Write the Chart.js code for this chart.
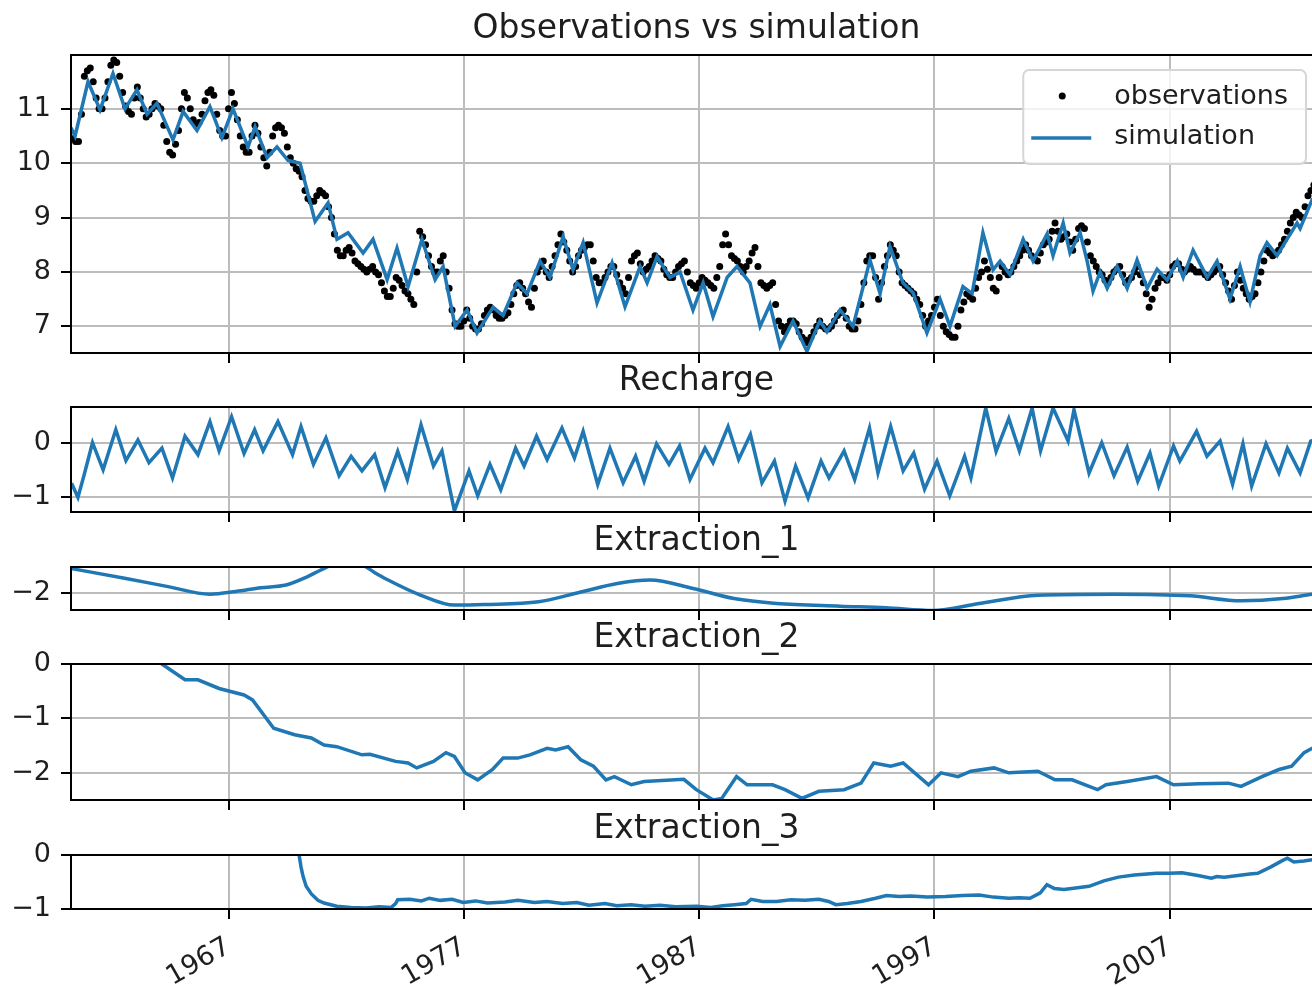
<!DOCTYPE html>
<html>
<head>
<meta charset="utf-8">
<title>Observations vs simulation</title>
<script src="https://cdn.jsdelivr.net/npm/chart.js@4.4.1/dist/chart.umd.min.js"></script>
<style>
    html, body { margin: 0; padding: 0; background: #fff; overflow: hidden; width: 1312px; height: 987px; }
    canvas { position: absolute; left: 0; }
</style>
</head>
<body>
<canvas id="panel-heads"></canvas>
<canvas id="panel-recharge"></canvas>
<canvas id="panel-ext1"></canvas>
<canvas id="panel-ext2"></canvas>
<canvas id="panel-ext3"></canvas>
<script>
// Shared time axis (decimal years)
const xMin = 1960.306;
const xMax = 2013.47;
const yearTicks = [1967, 1977, 1987, 1997, 2007];

// Heads: simulated line (turning points)
const simYears = [1960.31,1960.48,1961.03,1961.54,1962.09,1962.60,1963.11,1963.54,1963.96,1964.64,
    1965.07,1965.66,1966.21,1966.72,1967.19,1967.83,1968.13,1968.64,1969.06,1969.53,
    1970.04,1970.68,1971.23,1971.61,1972.08,1972.72,1973.14,1973.74,1974.16,1974.63,
    1975.22,1975.78,1976.12,1976.63,1977.14,1977.56,1978.24,1978.67,1979.26,1979.69,
    1980.24,1980.66,1981.22,1981.64,1982.07,1982.66,1983.30,1983.85,1984.49,1984.79,
    1985.21,1985.76,1986.19,1986.74,1987.17,1987.59,1988.19,1988.61,1989.16,1989.59,
    1990.01,1990.44,1990.99,1991.58,1992.13,1992.43,1992.99,1993.54,1994.26,1994.69,
    1995.11,1995.66,1996.09,1996.68,1997.24,1997.66,1998.21,1998.60,1999.06,1999.49,
    1999.79,2000.21,2000.77,2001.19,2001.79,2002.04,2002.47,2002.76,2003.19,2003.49,
    2003.74,2004.04,2004.34,2004.76,2005.19,2005.61,2006.04,2006.46,2006.89,2007.32,
    2007.57,2007.99,2008.59,2009.01,2009.56,2009.99,2010.41,2010.84,2011.13,2011.56,
    2011.98,2012.41,2012.54,2013.05,2013.47];
const simHeads = [10.65,10.50,11.50,10.98,11.65,11.00,11.35,10.90,11.10,10.43,
    10.95,10.60,11.04,10.47,11.00,10.30,10.67,10.10,10.30,10.05,
    10.00,8.93,9.27,8.60,8.72,8.35,8.60,7.86,8.44,7.73,
    8.60,7.86,8.10,7.00,7.30,6.88,7.35,7.20,7.80,7.60,
    8.20,7.90,8.65,8.04,8.54,7.43,8.17,7.36,8.10,7.80,
    8.28,7.90,8.00,7.30,7.80,7.18,7.90,8.10,7.80,7.00,
    7.40,6.63,7.10,6.54,7.10,6.90,7.30,7.00,8.22,7.60,
    8.47,7.80,7.62,6.88,7.50,7.00,7.73,7.60,8.72,8.04,
    8.20,7.95,8.60,8.20,8.70,8.30,8.90,8.35,8.72,8.20,
    7.65,8.00,7.70,8.10,7.70,8.22,7.70,8.05,7.85,8.20,
    7.90,8.40,7.90,8.20,7.50,8.10,7.45,8.30,8.54,8.30,
    8.60,8.90,8.80,9.33,9.45];

// Heads: observations, every 1/8 year from 1960.375
const obsStart = 1960.375;
const obsStep = 0.125;
const obsHeads = [10.45,10.4,10.4,10.9,11.6,11.7,
    11.75,11.5,11.2,11.0,11.0,11.2,11.5,11.8,
    11.9,11.85,11.6,11.3,11.05,10.95,10.9,11.2,
    11.4,11.2,11.0,10.85,10.9,11.0,11.1,11.05,
    11.0,10.7,10.4,10.2,10.15,10.35,10.6,11.0,
    11.3,11.2,11.0,10.8,10.7,10.75,10.9,11.15,
    11.3,11.35,11.25,10.9,10.6,10.5,10.5,11.0,
    11.3,11.1,10.8,10.5,10.3,10.2,10.2,10.5,
    10.7,10.55,10.3,10.1,9.95,10.2,10.5,10.65,
    10.7,10.65,10.55,10.3,10.1,10.0,9.9,9.85,
    9.75,9.5,9.35,9.3,9.3,9.4,9.5,9.45,
    9.4,9.2,9.0,8.7,8.4,8.3,8.3,8.4,
    8.45,8.35,8.2,8.15,8.1,8.05,8.0,8.05,
    8.1,8.0,7.95,7.8,7.65,7.55,7.55,7.7,
    7.9,7.85,7.75,7.65,7.6,7.5,7.4,8.0,
    8.75,8.65,8.5,8.3,8.1,8.0,8.0,8.2,
    8.3,8.0,7.7,7.3,7.05,7.0,7.0,7.1,
    7.3,7.15,7.0,6.95,6.95,7.05,7.2,7.3,
    7.35,7.3,7.2,7.15,7.15,7.2,7.25,7.4,
    7.6,7.75,7.8,7.7,7.6,7.45,7.35,7.7,
    8.0,8.1,8.2,8.0,7.9,8.1,8.3,8.5,
    8.7,8.55,8.4,8.2,8.0,8.1,8.3,8.4,
    8.45,8.5,8.5,8.2,7.9,7.8,7.8,7.9,
    8.0,8.1,8.1,7.95,7.8,7.7,7.6,7.9,
    8.2,8.3,8.35,8.15,8.0,8.05,8.1,8.2,
    8.3,8.25,8.2,8.05,7.95,7.9,7.9,8.0,
    8.1,8.15,8.2,8.0,7.8,7.75,7.7,7.8,
    7.9,7.85,7.8,7.75,7.7,7.9,8.1,8.5,
    8.7,8.5,8.3,8.25,8.2,8.1,8.0,8.1,
    8.2,8.35,8.45,8.1,7.8,7.75,7.7,7.75,
    7.8,7.4,7.1,7.0,6.9,7.0,7.1,7.1,
    7.05,6.9,6.8,6.75,6.7,6.8,6.9,7.0,
    7.1,7.0,6.95,6.95,7.0,7.1,7.2,7.25,
    7.3,7.15,7.0,6.95,6.95,7.1,7.4,7.8,
    8.2,8.3,8.3,7.9,7.5,7.8,8.1,8.3,
    8.5,8.4,8.3,8.0,7.8,7.75,7.7,7.65,
    7.6,7.5,7.4,7.2,7.0,7.1,7.2,7.35,
    7.5,7.2,7.0,6.9,6.85,6.8,6.8,7.0,
    7.3,7.45,7.6,7.55,7.5,7.7,7.9,8.0,
    8.2,8.05,7.9,7.7,7.65,7.9,8.1,8.0,
    7.95,8.0,8.1,8.2,8.3,8.4,8.5,8.4,
    8.3,8.25,8.2,8.35,8.5,8.55,8.6,8.75,
    8.9,8.75,8.6,8.65,8.7,8.55,8.4,8.6,
    8.8,8.85,8.8,8.55,8.3,8.2,8.1,8.0,
    7.95,7.85,7.8,7.9,8.0,8.05,8.1,7.95,
    7.8,7.85,7.9,8.0,8.1,7.95,7.8,7.6,
    7.35,7.5,7.7,7.8,7.9,7.9,7.85,7.95,
    8.1,8.15,8.15,8.05,8.0,8.05,8.1,8.05,
    8.0,8.0,8.0,7.95,7.9,7.95,8.0,8.05,
    8.1,7.95,7.8,7.65,7.5,7.75,8.0,7.85,
    7.7,7.6,7.5,7.55,7.6,7.8,8.0,8.2,
    8.4,8.35,8.3,8.35,8.4,8.5,8.6,8.75,
    8.9,9.0,9.1,9.05,9.0,9.2,9.4,9.5,
    9.6];

// Recharge contribution
const rechargeYears = [1960.33,1960.60,1960.86,1961.22,1961.67,1962.21,1962.64,1963.15,1963.62,1964.17,
    1964.62,1965.15,1965.70,1966.21,1966.60,1967.13,1967.66,1968.11,1968.47,1969.10,
    1969.72,1970.08,1970.61,1971.14,1971.70,1972.21,1972.67,1973.21,1973.65,1974.19,
    1974.60,1975.18,1975.71,1976.07,1976.60,1977.22,1977.59,1978.11,1978.57,1979.20,
    1979.56,1980.09,1980.54,1981.17,1981.70,1982.07,1982.69,1983.21,1983.77,1984.30,
    1984.66,1985.19,1985.72,1986.17,1986.61,1987.25,1987.59,1988.23,1988.68,1989.18,
    1989.67,1990.20,1990.65,1991.10,1991.63,1992.18,1992.52,1993.16,1993.61,1994.24,
    1994.60,1995.14,1995.67,1996.12,1996.58,1997.11,1997.65,1998.28,1998.55,1999.18,
    1999.62,2000.16,2000.61,2001.15,2001.51,2002.04,2002.68,2002.93,2003.57,2004.11,
    2004.63,2005.19,2005.64,2006.16,2006.53,2007.16,2007.43,2008.14,2008.58,2009.14,
    2009.67,2010.11,2010.48,2011.09,2011.64,2012.00,2012.54,2012.99,2013.47];
const rechargeValues = [-0.75,-1.01,-0.60,0.00,-0.50,0.24,-0.33,0.05,-0.37,-0.10,
    -0.65,0.12,-0.22,0.39,-0.15,0.48,-0.20,0.24,-0.15,0.39,
    -0.22,0.30,-0.40,0.09,-0.61,-0.25,-0.52,-0.22,-0.83,-0.16,
    -0.68,0.33,-0.43,-0.15,-1.26,-0.52,-0.98,-0.40,-0.87,-0.10,
    -0.43,0.12,-0.31,0.27,-0.28,0.21,-0.77,-0.10,-0.74,-0.25,
    -0.71,-0.02,-0.40,-0.06,-0.68,-0.10,-0.37,0.30,-0.31,0.15,
    -0.74,-0.34,-1.08,-0.43,-1.02,-0.34,-0.65,-0.15,-0.68,0.27,
    -0.56,0.30,-0.52,-0.19,-0.86,-0.34,-0.98,-0.25,-0.65,0.64,
    -0.16,0.45,-0.15,0.64,-0.15,0.64,0.03,0.61,-0.56,0.00,
    -0.61,-0.08,-0.71,-0.19,-0.80,-0.06,-0.34,0.21,-0.25,0.03,
    -0.77,-0.02,-0.80,-0.02,-0.56,-0.10,-0.56,0.03,0.10];

// Extraction contributions
const ext1Years = [1960.33,1962.64,1964.43,1966.21,1967.31,1968.38,1969.44,1970.34,1970.90,1971.42,
    1972.05,1972.67,1973.20,1973.74,1975.18,1976.60,1977.86,1980.18,1981.97,1983.58,
    1984.91,1986.70,1988.48,1990.29,1992.99,1994.94,1996.93,1998.90,2001.40,2004.63,
    2007.86,2010.03,2011.81,2013.05,2013.47];
const ext1Values = [-1.55,-1.73,-1.88,-2.02,-1.97,-1.90,-1.85,-1.70,-1.58,-1.48,
    -1.45,-1.48,-1.62,-1.75,-2.04,-2.22,-2.21,-2.16,-1.98,-1.82,
    -1.76,-1.91,-2.10,-2.19,-2.24,-2.27,-2.32,-2.19,-2.04,-2.02,
    -2.05,-2.14,-2.10,-2.02,-2.00];

const ext2Years = [1963.95,1964.17,1965.15,1965.70,1966.60,1967.66,1968.02,1968.92,1969.81,1970.52,
    1971.06,1971.60,1972.67,1973.01,1974.10,1974.63,1975.00,1975.71,1976.24,1976.60,
    1977.05,1977.59,1978.22,1978.67,1979.29,1979.81,1980.54,1980.90,1981.43,1981.97,
    1982.51,1983.04,1983.40,1984.12,1984.66,1986.35,1986.88,1987.60,1987.96,1988.59,
    1989.04,1990.12,1990.65,1991.37,1992.09,1993.16,1993.88,1994.42,1995.14,1995.67,
    1996.75,1997.28,1998.00,1998.55,1999.53,2000.16,2001.40,2002.12,2002.85,2003.93,
    2004.29,2005.19,2006.44,2007.16,2008.24,2009.49,2010.03,2010.92,2011.64,2012.18,
    2012.71,2013.05,2013.47];
const ext2Values = [0.08,0.00,-0.29,-0.29,-0.45,-0.57,-0.66,-1.18,-1.30,-1.36,
    -1.49,-1.52,-1.67,-1.66,-1.79,-1.82,-1.91,-1.79,-1.63,-1.70,
    -2.00,-2.13,-1.94,-1.73,-1.73,-1.67,-1.55,-1.58,-1.52,-1.76,
    -1.88,-2.13,-2.07,-2.22,-2.16,-2.12,-2.31,-2.50,-2.47,-2.07,
    -2.22,-2.22,-2.31,-2.47,-2.34,-2.31,-2.19,-1.82,-1.88,-1.82,
    -2.22,-2.00,-2.07,-1.97,-1.91,-2.00,-1.97,-2.13,-2.13,-2.31,
    -2.22,-2.16,-2.07,-2.22,-2.20,-2.19,-2.25,-2.07,-1.94,-1.88,
    -1.63,-1.55,-1.50];

const ext3Years = [1970.00,1970.08,1970.17,1970.30,1970.52,1970.80,1971.06,1971.60,1972.20,1972.84,
    1973.40,1973.92,1974.10,1974.19,1974.70,1975.20,1975.53,1976.00,1976.50,1976.97,
    1977.50,1978.00,1978.75,1979.30,1980.00,1980.54,1981.20,1981.80,1982.32,1983.00,
    1983.50,1984.11,1984.70,1985.34,1986.00,1986.89,1987.50,1988.00,1988.50,1989.00,
    1989.21,1989.70,1990.29,1990.90,1991.50,1992.09,1992.50,1992.81,1993.30,1993.88,
    1994.50,1994.96,1995.50,1996.00,1996.70,1997.47,1998.20,1998.90,1999.50,2000.16,
    2000.60,2001.06,2001.50,2001.78,2002.10,2002.50,2003.00,2003.57,2004.20,2004.82,
    2005.50,2006.44,2007.00,2007.52,2008.20,2008.77,2009.00,2009.31,2009.90,2010.40,
    2010.74,2011.30,2011.80,2012.00,2012.27,2012.70,2013.05,2013.47];
const ext3Values = [0.00,-0.22,-0.40,-0.58,-0.72,-0.84,-0.89,-0.95,-0.97,-0.98,
    -0.96,-0.97,-0.90,-0.83,-0.82,-0.85,-0.80,-0.84,-0.82,-0.88,
    -0.85,-0.89,-0.87,-0.84,-0.88,-0.86,-0.90,-0.88,-0.93,-0.90,
    -0.94,-0.92,-0.95,-0.93,-0.96,-0.95,-0.97,-0.94,-0.92,-0.90,
    -0.82,-0.86,-0.86,-0.83,-0.84,-0.82,-0.86,-0.92,-0.90,-0.86,
    -0.80,-0.75,-0.77,-0.76,-0.78,-0.77,-0.75,-0.74,-0.78,-0.80,
    -0.79,-0.80,-0.70,-0.55,-0.62,-0.64,-0.61,-0.58,-0.48,-0.41,
    -0.37,-0.34,-0.34,-0.33,-0.38,-0.43,-0.40,-0.41,-0.38,-0.35,
    -0.34,-0.22,-0.10,-0.06,-0.13,-0.11,-0.09,-0.08];

// Y tick values per panel
const headTicks = [7, 8, 9, 10, 11];
const rechargeTicks = [-1, 0];
const ext1Ticks = [-2];
const ext2Ticks = [-2, -1, 0];
const ext3Ticks = [-1, 0];

const BLUE = '#1f77b4';
const GRID = '#bcbcbc';
const TEXT = '#1e1e1e';
const FONT = '"DejaVu Sans", sans-serif';

Chart.defaults.font.family = FONT;
Chart.defaults.color = TEXT;

function pairs(xs, ys) {
    return xs.map((x, i) => ({ x: x, y: ys[i] }));
}

function fmtTick(v) {
    return v < 0 ? '\u2212' + Math.abs(v) : String(v);
}

// Axes frame drawn over the data, like matplotlib spines
const framePlugin = {
    id: 'frame',
    afterDraw(chart) {
        const { ctx, chartArea: a } = chart;
        ctx.save();
        ctx.strokeStyle = '#000';
        ctx.lineWidth = 2;
        ctx.strokeRect(a.left, a.top, a.right - a.left, a.bottom - a.top);
        ctx.restore();
    }
};

// Title centred over the plot area
const panelTitle = {
    id: 'panelTitle',
    afterDraw(chart, args, opts) {
        const { ctx, chartArea: a } = chart;
        ctx.save();
        ctx.font = '33px ' + FONT;
        ctx.fillStyle = TEXT;
        ctx.textAlign = 'center';
        ctx.textBaseline = 'alphabetic';
        ctx.fillText(opts.text, (a.left + a.right) / 2, a.top - 17);
        ctx.restore();
    }
};

// Framed legend inside the upper right corner
const legendBox = {
    id: 'legendBox',
    afterDatasetsDraw(chart, args, opts) {
        if (!opts.show) return;
        const { ctx, chartArea: a } = chart;
        const sets = chart.data.datasets;
        ctx.save();
        ctx.font = '27px ' + FONT;
        const textW = Math.max(...sets.map(d => ctx.measureText(d.label).width));
        const w = 91 + textW + 18, h = 94;
        const x = a.right - 16 - w, y = a.top + 15;
        ctx.beginPath();
        ctx.roundRect(x, y, w, h, 6);
        ctx.fillStyle = 'rgba(255,255,255,0.8)';
        ctx.fill();
        ctx.strokeStyle = '#d6d6d6';
        ctx.lineWidth = 2;
        ctx.stroke();
        sets.forEach((d, i) => {
            const cy = y + 26 + i * 40;
            if (d.showLine === false) {
                ctx.beginPath();
                ctx.arc(x + 39, cy, 3.5, 0, Math.PI * 2);
                ctx.fillStyle = d.pointBackgroundColor;
                ctx.fill();
            } else {
                ctx.beginPath();
                ctx.moveTo(x + 8, cy + 2);
                ctx.lineTo(x + 68, cy + 2);
                ctx.strokeStyle = d.borderColor;
                ctx.lineWidth = 3.5;
                ctx.stroke();
            }
            ctx.fillStyle = TEXT;
            ctx.textAlign = 'left';
            ctx.textBaseline = 'alphabetic';
            ctx.fillText(d.label, x + 91, cy + 8);
        });
        ctx.restore();
    }
};

function lineSet(label, xs, ys, extra) {
    return Object.assign({
        label: label,
        data: pairs(xs, ys),
        borderColor: BLUE,
        borderWidth: 3.5,
        pointRadius: 0,
        tension: 0,
        clip: 0,
    }, extra || {});
}

function makePanel(id, title, top, height, yMin, yMax, yTicks, datasets, opts) {
    opts = opts || {};
    const xh = opts.xLabels ? 80 : 10;
    const canvas = document.getElementById(id);
    canvas.width = 1330;
    canvas.height = 50 + height + xh;
    canvas.style.top = (top - 50) + 'px';

    return new Chart(canvas, {
        type: 'line',
        data: { datasets: datasets },
        options: {
            responsive: false,
            animation: false,
            events: [],
            layout: { padding: { left: 0, right: 8, top: 50, bottom: 0 } },
            plugins: {
                legend: { display: false },
                tooltip: { enabled: false },
                panelTitle: { text: title },
                legendBox: { show: !!opts.legend },
            },
            scales: {
                x: {
                    type: 'linear',
                    min: xMin,
                    max: xMax,
                    afterFit: (s) => { s.height = xh; s.paddingLeft = 0; s.paddingRight = 0; },
                    afterBuildTicks: (s) => { s.ticks = yearTicks.map(v => ({ value: v })); },
                    grid: { color: GRID, lineWidth: 2, tickColor: '#000', tickWidth: 2, tickLength: 10 },
                    border: { display: false },
                    ticks: {
                        display: !!opts.xLabels,
                        autoSkip: false,
                        minRotation: 30,
                        maxRotation: 30,
                        padding: 12,
                        color: TEXT,
                        font: { size: 27 },
                        callback: (v) => String(v),
                    },
                },
                y: {
                    min: yMin,
                    max: yMax,
                    afterFit: (s) => { s.width = 71; s.paddingTop = 0; s.paddingBottom = 0; },
                    afterBuildTicks: (s) => { s.ticks = yTicks.map(v => ({ value: v })); },
                    grid: { color: GRID, lineWidth: 2, tickColor: '#000', tickWidth: 2, tickLength: 10 },
                    border: { display: false },
                    ticks: {
                        padding: 10,
                        color: TEXT,
                        font: { size: 27 },
                        callback: (v) => fmtTick(v),
                    },
                },
            },
        },
        plugins: [framePlugin, panelTitle, legendBox],
    });
}

const obsYears = obsHeads.map((_, i) => obsStart + i * obsStep);

makePanel('panel-heads', 'Observations vs simulation', 55, 298, 6.51, 11.99, headTicks, [
    {
        label: 'observations',
        data: pairs(obsYears, obsHeads),
        showLine: false,
        pointRadius: 3.5,
        pointBorderWidth: 0,
        pointBackgroundColor: '#000',
        borderColor: '#000',
        clip: 0,
        order: 1,
    },
    lineSet('simulation', simYears, simHeads, { order: 0 }),
], { legend: true });

makePanel('panel-recharge', 'Recharge', 407, 105, -1.28, 0.66, rechargeTicks, [
    lineSet('Recharge', rechargeYears, rechargeValues),
]);

makePanel('panel-ext1', 'Extraction_1', 567, 43, -2.31, -1.52, ext1Ticks, [
    lineSet('Extraction_1', ext1Years, ext1Values, { cubicInterpolationMode: 'monotone' }),
]);

makePanel('panel-ext2', 'Extraction_2', 664, 136, -2.5, 0, ext2Ticks, [
    lineSet('Extraction_2', ext2Years, ext2Values),
]);

makePanel('panel-ext3', 'Extraction_3', 855, 54, -1, 0, ext3Ticks, [
    lineSet('Extraction_3', ext3Years, ext3Values),
], { xLabels: true });
</script>
</body>
</html>
